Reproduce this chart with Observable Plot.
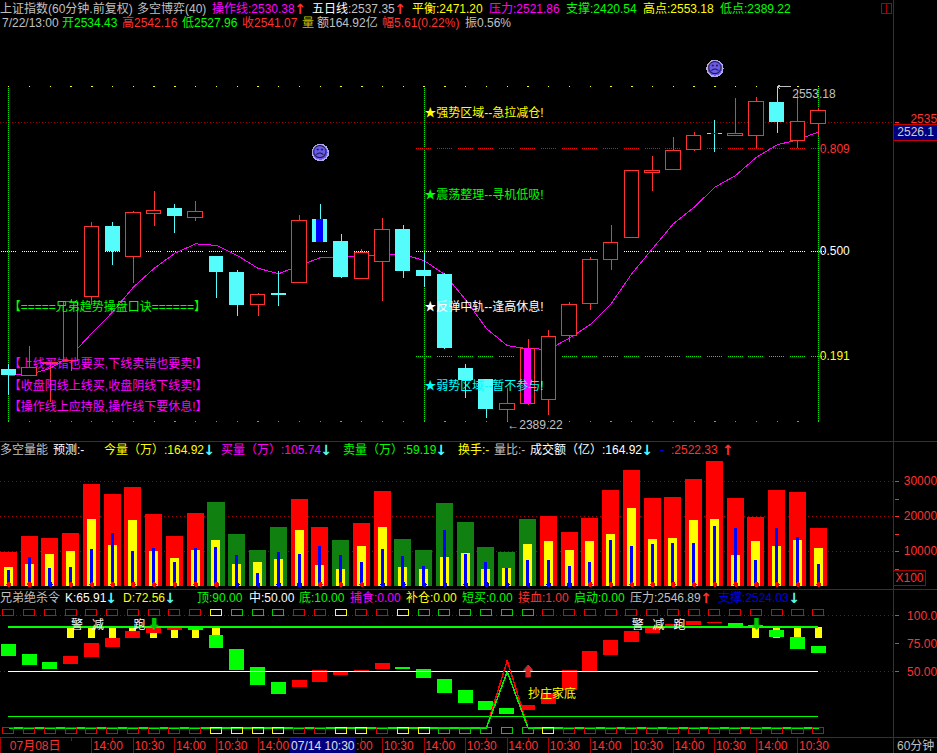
<!DOCTYPE html>
<html><head><meta charset="utf-8">
<script src="https://cdn.jsdelivr.net/npm/d3@7"></script>
<script src="https://cdn.jsdelivr.net/npm/@observablehq/plot@0.6"></script>
<style>
html,body{margin:0;padding:0;background:#000;overflow:hidden}
#wrap{position:relative;width:937px;height:753px;background:#000;overflow:hidden;font:12px "Liberation Sans","Noto Sans CJK SC",sans-serif}
#wrap svg{position:absolute;left:0;background:transparent!important;shape-rendering:crispEdges}
.t{position:absolute;white-space:nowrap;line-height:14px;height:14px;z-index:5}
.a{position:absolute;width:12px;text-align:center;line-height:14px;height:14px;z-index:5;font:bold 14px/14px "DejaVu Sans"}
.l{position:absolute;background:#a80000;z-index:6}
text{font-family:"Liberation Sans","Noto Sans CJK SC",sans-serif}
</style></head><body><div id="wrap">
<div class="t" style="left:0;top:2px;color:#c0c0c0">上证指数(60分钟.前复权)</div>
<div class="t" style="left:137px;top:2px;color:#c0c0c0">多空博弈(40)</div>
<div class="t" style="left:212px;top:2px;color:#f0f">操作线:2530.38</div>
<div class="a" style="left:294px;top:2px;color:#ff3232">↑</div>
<div class="t" style="left:312px;top:2px;color:#c0c0c0"><span style="color:#fff">五日线</span>:2537.35</div>
<div class="a" style="left:394px;top:2px;color:#ff3232">↑</div>
<div class="t" style="left:412px;top:2px;color:#ff0">平衡:2471.20</div>
<div class="t" style="left:489px;top:2px;color:#f0f">压力:2521.86</div>
<div class="t" style="left:566px;top:2px;color:#0f0">支撑:2420.54</div>
<div class="t" style="left:643px;top:2px;color:#ff0">高点:2553.18</div>
<div class="t" style="left:720px;top:2px;color:#0f0">低点:2389.22</div>
<div class="t" style="left:2px;top:16px;color:#c0c0c0">7/22/13:00</div>
<div class="t" style="left:62px;top:16px;color:#0f0">开2534.43</div>
<div class="t" style="left:122px;top:16px;color:#ff3232">高2542.16</div>
<div class="t" style="left:182px;top:16px;color:#0f0">低2527.96</div>
<div class="t" style="left:242px;top:16px;color:#ff3232">收2541.07</div>
<div class="t" style="left:302px;top:16px;color:#c0c000">量</div>
<div class="t" style="left:317px;top:16px;color:#c0c0c0">额164.92亿</div>
<div class="t" style="left:382px;top:16px;color:#ff3232">幅5.61(0.22%)</div>
<div class="t" style="left:465px;top:16px;color:#c0c0c0">振0.56%</div>

<div class="t" style="left:0;top:443px;color:#c0c0c0">多空量能</div>
<div class="t" style="left:53px;top:443px;color:#fff">预测:-</div>
<div class="t" style="left:104px;top:443px;color:#ff0">今量（万）:164.92</div>
<div class="a" style="left:203px;top:443px;color:#54fcfc">↓</div>
<div class="t" style="left:221px;top:443px;color:#f0f">买量（万）:105.74</div>
<div class="a" style="left:320px;top:443px;color:#54fcfc">↓</div>
<div class="t" style="left:343px;top:443px;color:#0f0">卖量（万）:59.19</div>
<div class="a" style="left:435px;top:443px;color:#54fcfc">↓</div>
<div class="t" style="left:458px;top:443px;color:#ff0">换手:-</div>
<div class="t" style="left:494px;top:443px;color:#c0c0c0">量比:-</div>
<div class="t" style="left:530px;top:443px;color:#fff">成交额（亿）:164.92</div>
<div class="a" style="left:641px;top:443px;color:#54fcfc">↓</div>
<div class="t" style="left:660px;top:443px;color:#00f">-</div>
<div class="t" style="left:671px;top:443px;color:#ff3232">:2522.33</div>
<div class="a" style="left:722px;width:8px;top:443px;color:#ff3232">↑</div>

<div class="t" style="left:0;top:591px;color:#c0c0c0">兄弟绝杀令</div>
<div class="t" style="left:65px;top:591px;color:#fff">K:65.91</div>
<div class="a" style="left:105px;top:591px;color:#54fcfc">↓</div>
<div class="t" style="left:123px;top:591px;color:#ff0">D:72.56</div>
<div class="a" style="left:164px;top:591px;color:#54fcfc">↓</div>
<div class="t" style="left:197px;top:591px;color:#0f0">顶:90.00</div>
<div class="t" style="left:249px;top:591px;color:#fff">中:50.00</div>
<div class="t" style="left:299px;top:591px;color:#0f0">底:10.00</div>
<div class="t" style="left:350px;top:591px;color:#f0f">捕食:0.00</div>
<div class="t" style="left:406px;top:591px;color:#ff0">补仓:0.00</div>
<div class="t" style="left:462px;top:591px;color:#0f0">短买:0.00</div>
<div class="t" style="left:518px;top:591px;color:#ff3232">接血:1.00</div>
<div class="t" style="left:574px;top:591px;color:#0f0">启动:0.00</div>
<div class="t" style="left:630px;top:591px;color:#c0c0c0">压力:2546.89</div>
<div class="a" style="left:700px;top:591px;color:#ff3232">↑</div>
<div class="t" style="left:718px;top:591px;color:#0000e6">支撑:2524.03</div>
<div class="a" style="left:788px;top:591px;color:#54fcfc">↓</div>

<div class="l" style="left:893px;top:0;width:1px;height:753px"></div>
<div class="l" style="left:0;top:441px;width:937px;height:1px"></div>
<div class="l" style="left:0;top:589px;width:937px;height:1px"></div>
<div class="l" style="left:0;top:737px;width:937px;height:1px"></div>
<div class="l" style="left:0;top:737px;width:1px;height:16px"></div>
<div style="position:absolute;left:881px;top:3px;width:9px;height:9px;border:1px solid #a80000;z-index:6"></div>
<div style="position:absolute;left:886px;top:3px;width:1px;height:10px;background:#a80000;z-index:6"></div>

<div style="position:absolute;left:894px;top:124px;width:43px;height:15px;background:#000080;border-top:1px solid #c80000;border-bottom:1px solid #c80000;color:#d0d0d0;line-height:15px;z-index:6">&nbsp;2526.1</div>
<div style="position:absolute;left:893px;top:570px;width:31px;height:14px;border:1px solid #a80000;color:#ff3232;line-height:14px;text-align:center;z-index:6">X100</div>
<div class="t" style="left:897px;top:739px;color:#c0c0c0">60分钟</div>
</div>
<script>
// candles, index 0..39
const priceOpen=[2414.1,2411.0,2416.5,2418.1,2448.9,2483.3,2468.3,2489.7,2492.1,2487.5,2468.7,2460.9,2445.2,2450.7,2455.7,2486.9,2476.1,2457.7,2465.9,2481.9,2461.9,2459.9,2414.6,2409.4,2394.7,2397.6,2399.5,2430.1,2445.7,2467.1,2477.8,2509.7,2511.2,2521.2,2529.6,2528.5,2528.2,2545.1,2525.7,2534.43];
const priceHigh=[2416.5,2425.1,2417.6,2447.6,2485.5,2485.5,2490.9,2500.7,2494.2,2495.7,2468.7,2461.9,2450.8,2461.4,2488.8,2494.2,2479.5,2472.0,2487.3,2483.9,2470.1,2460.6,2416.5,2409.4,2404.9,2428.5,2432.8,2446.2,2468.1,2483.9,2510.9,2518.0,2527.5,2530.0,2536.0,2547.1,2547.6,2553.18,2551.2,2542.16];
const priceLow=[2401.8,2411.0,2398.3,2412.9,2444.9,2464.3,2455.4,2483.6,2479.8,2486.0,2448.4,2439.3,2439.3,2444.6,2455.7,2475.7,2458.1,2457.7,2446.8,2458.1,2453.8,2423.7,2400.5,2390.9,2389.22,2397.0,2392.2,2426.8,2442.5,2461.9,2477.8,2500.7,2511.2,2520.5,2520.2,2528.2,2521.9,2529.5,2521.9,2527.96];
const priceClose=[2411.3,2415.0,2417.1,2446.7,2483.3,2471.1,2490.1,2490.8,2488.5,2490.6,2460.9,2444.9,2450.1,2449.9,2486.2,2475.7,2458.6,2470.5,2481.8,2461.4,2459.1,2424.2,2408.6,2395.2,2397.8,2424.0,2429.8,2445.2,2467.1,2475.4,2510.9,2510.9,2520.9,2528.4,2529.1,2529.1,2545.4,2535.0,2535.4,2541.07];
const operLine=[2411.3,2411.8,2414.6,2420.8,2431.5,2441.7,2453.8,2462.9,2470.3,2474.9,2474.1,2469.2,2462.9,2460.3,2464.3,2468.1,2468.3,2468.8,2469.7,2469.7,2466.7,2459.8,2447.6,2433.7,2425.5,2424.0,2423.8,2429.1,2435.7,2445.7,2460.3,2472.6,2484.7,2492.9,2502.8,2508.6,2517.7,2523.9,2526.4,2530.38];
const markedCandles=[[15,"#0000ff"],[25,"#ff00ff"],[34,"#0000ff"]];
const fibLevels=[["0.809",2521.86,"#ff3232"],["0.500",2471.20,"#ffffff"],["0.191",2420.54,"#ffff00"]];
const priceHiLo=[2553.18,2389.22];
const zoneNotes=[["★强势区域--急拉减仓!",2539.6,"#ffff00"],["★震荡整理--寻机低吸!",2498.7,"#00ff00"],["★反弹中轨--逢高休息!",2444.1,"#ffffff"],["★弱势区域--暂不参与!",2406.2,"#00ffff"]];
const tradeNotes=[["【=====兄弟趋势操盘口诀======】",2444.1,"#00ff00"],["【上线买错也要买,下线卖错也要卖!】",2416.7,"#ff00ff"],["【收盘阳线上线买,收盘阴线下线卖!】",2406.2,"#ff00ff"],["【操作线上应持股,操作线下要休息!】",2396.2,"#ff00ff"]];
const sadFaces=[[15,2520],[34,2562.3]];
// volume
const volTotal=[9714,14286,13714,15143,29143,26286,28286,20571,14286,20857,24000,14857,10286,16857,24857,16857,13143,18000,27143,13429,10286,23714,18286,11143,9714,19143,20000,15429,19429,27429,33143,25143,25429,30571,35714,25143,19714,27429,26857,16492];
const volFalling=[10,11,12,13,16,19,20,21,22,23,24,25];
const volYellow=[5429,6286,9143,10000,19143,11714,18857,10000,8000,10286,13143,6286,6857,7714,16000,6000,4857,11429,16857,5429,4857,8286,9429,4857,5143,12000,12857,10286,12857,14857,22286,13429,13714,18857,19143,8857,12857,11429,13143,10857];
const volBlue=[4571,8286,5143,5429,10571,15143,10000,10857,6857,10857,11143,8857,3714,9714,9143,11429,8857,6857,10571,8571,5714,16000,9143,6857,5143,7429,7429,5714,6857,13143,11429,12000,12286,12286,17143,16571,7429,16571,14000,6286];
const volBlueMarks=[2,11,12,13,14,18,19,20,21,22,23,24,25,26,27];
const volTicks=[10000,20000,30000];
const volMinorTicks=[5000,15000,25000];
// indicator
const kdTop=[74.4,65.5,58.3,63.7,75.3,79.7,86.0,88.7,89.6,88.7,82.4,69.9,53.9,40.5,42.2,51.2,49.4,51.2,57.4,53.9,52.1,43.1,33.3,23.5,17.2,19.9,30.3,51.2,68.1,78.0,86.0,89.9,92.2,94.9,94.0,93.1,91.4,86.9,80.6,72.56];
const kdBottom=[63.7,55.6,52.1,56.5,62.8,71.7,79.7,84.2,86.9,86.9,70.8,51.2,37.8,29.8,36.0,40.5,46.7,50.0,52.1,52.1,44.0,30.6,21.7,15.5,11.9,15.5,20.8,33.3,50.3,64.6,76.2,84.2,88.7,91.4,93.1,88.7,88.7,80.6,69.9,65.91];
const kdGreen=[0,1,2,9,10,11,12,13,19,20,21,22,23,24,35,36,37,38,39];
const warnBars=[3,4,5,6,7,8,9,10,36,37,38,39];
const warnWords=[[3,"警"],[4,"减"],[6,"跑"],[30,"警"],[31,"减"],[32,"跑"]];
const downArrows=[7,36];
const upArrows=[25];
const bottomRed=[0,0,0,0,0,0,0,0,0,0,0,0,0,0,0,0,0,0,0,0,0,0,0,0,60,0,0,0,0,0,0,0,0,0,0,0,0,0,0,0];
const bottomGreen=[0,0,0,0,0,0,0,0,0,0,0,0,0,0,0,0,0,0,0,0,0,0,0,0,50,0,0,0,0,0,0,0,0,0,0,0,0,0,0,0];
const topBoxes=["r","r","r","r","r","r","r","r","r","r","y","g","g","g","r","r","y","r","r","y","g","g","g","g","g","g","r","r","r","r","r","r","r","r","r","r","r","r","r","r"];
const lowBoxes=["r","r","r","r","r","r","r","r","r","r","y","y","y","y","r","r","y","y","r","y","y","g","g","g","g","g","y","r","r","r","r","r","r","r","r","r","r","r","r","r"];
const kdTicks=[[100,"100.0"],[75,"75.00"],[50,"50.00"]];
// x axis
const axisTicks=[[4,"14:00"],[6,"10:30"],[8,"14:00"],[10,"10:30"],[12,"14:00"],[18,"10:30"],[20,"14:00"],[22,"10:30"],[24,"14:00"],[26,"10:30"],[28,"14:00"],[30,"10:30"],[32,"14:00"],[34,"10:30"],[36,"14:00"],[38,"10:30"]];
const axisMinor=[3,5,7,9,11,13,17,19,21,23,25,27,29,31,33,35,37,39];

const RED="#ff3232",CYAN="#54fcfc",GRID="#a00000",GREEN="#00f000";
const idx=d3.range(40);
const xScale={type:"linear",domain:[-0.4,44.717],range:[0,937]};
const boxColor={r:"#e60000",y:"#ffff00",g:"#00d000"};
const wrap=document.getElementById("wrap");
function place(p,top){p.style.top=top+"px";wrap.appendChild(p);}
const halfGroups=(from)=>d3.range(from,40);

// ---- price panel: svg spans y=28..440, log scale
const k=0.00019794, yTop=28, yBot=440;
const priceAt=y=>2389.22*Math.exp((421.3-y)*k);
const upIdx=idx.filter(i=>priceClose[i]>=priceOpen[i]);
const dnIdx=idx.filter(i=>priceClose[i]<priceOpen[i]);
const pricePlot=Plot.plot({width:937,height:yBot-yTop,margin:0,
 x:{...xScale,axis:null},
 y:{type:"log",domain:[priceAt(yBot),priceAt(yTop)],range:[yBot-yTop,0],axis:null},
 style:{background:"transparent"},
 marks:[
  Plot.ruleY([2535],{x1:-0.4,x2:42.6,stroke:"#a00000",strokeDasharray:"1,2"}),
  Plot.ruleX([0,20,39],{y1:priceHiLo[1],y2:priceHiLo[0],stroke:GREEN,strokeDasharray:"1,1"}),
  ...fibLevels.map((f,n)=>Plot.ruleY(halfGroups(n===1?0:20),{y:()=>f[1],x1:i=>i-0.36,x2:i=>i+0.36,stroke:f[2]==="#ffff00"?GREEN:(n===0?"#ff0000":"#ffffff"),strokeDasharray:"1,1"})),
  Plot.dot(idx,{x:i=>i,y:()=>priceHiLo[0],r:0.7,fill:"#ffff00"}),
  Plot.dot(idx,{x:i=>i,y:()=>priceHiLo[1],r:0.7,fill:GREEN}),
  Plot.line(idx,{x:i=>i,y:i=>operLine[i],stroke:"#ff00ff",strokeWidth:1}),
  Plot.ruleX(upIdx,{x:i=>i,y1:i=>priceLow[i],y2:i=>priceHigh[i],stroke:RED}),
  Plot.ruleX(dnIdx,{x:i=>i,y1:i=>priceLow[i],y2:i=>priceHigh[i],stroke:CYAN}),
  Plot.rect(upIdx,{x1:i=>i-0.35,x2:i=>i+0.35,y1:i=>priceOpen[i],y2:i=>priceClose[i],fill:"#000",stroke:RED,strokeWidth:1}),
  Plot.rect(dnIdx,{x1:i=>i-0.36,x2:i=>i+0.36,y1:i=>priceOpen[i],y2:i=>priceClose[i],fill:CYAN}),
  Plot.rect(markedCandles,{x1:d=>d[0]-0.17,x2:d=>d[0]+0.17,y1:d=>priceOpen[d[0]],y2:d=>priceClose[d[0]],fill:d=>d[1]}),
  Plot.dot(sadFaces,{x:d=>d[0],y:d=>d[1],r:8,fill:"#6a5ce8",stroke:"#b0a8f0"}),
  Plot.text(sadFaces,{x:d=>d[0],y:d=>d[1],text:()=>"☹",fontSize:15,fill:"#201850",fontFamily:"DejaVu Sans"}),
  Plot.text(zoneNotes,{x:()=>20,y:d=>d[1],text:d=>d[0],fill:d=>d[2],textAnchor:"start",fontSize:12}),
  Plot.text(tradeNotes,{x:()=>0,y:d=>d[1],text:d=>d[0],fill:d=>d[2],textAnchor:"start",fontSize:12}),
  Plot.text(fibLevels,{x:()=>39,y:d=>d[1],text:d=>d[0],fill:d=>d[2],textAnchor:"start",dx:1,fontSize:12}),
  Plot.text([priceHiLo[1]],{x:()=>24,y:d=>d,text:d=>"←"+d.toFixed(2),fill:"#c0c0c0",textAnchor:"start",dy:3,fontSize:12}),
  Plot.text([priceHiLo[0]],{x:()=>37,y:d=>d,text:d=>d.toFixed(2),fill:"#c0c0c0",textAnchor:"start",dx:15,dy:8,fontSize:12}),
  Plot.arrow([priceHiLo[0]],{x1:()=>37.65,y1:d=>d,x2:()=>37,y2:d=>d,stroke:"#c0c0c0",strokeWidth:1,bend:8,headLength:4}),
  Plot.ruleY([2535],{x1:42.7,x2:42.9,stroke:RED}),
  Plot.text([2535],{x:()=>44.7,y:d=>d,text:d=>String(d),fill:RED,textAnchor:"end",dy:-3,fontSize:12})
 ]});
place(pricePlot,yTop);

// ---- volume panel svg y=456..588; 35px per 10000, zero at 586
const volH=132, volZeroPx=130;
const volPlot=Plot.plot({width:937,height:volH,margin:0,
 x:{...xScale,axis:null},
 y:{type:"linear",domain:[(volZeroPx-volH)/35*10000,volZeroPx/35*10000],range:[volH,0],axis:null},
 style:{background:"transparent"},
 marks:[
  Plot.ruleY(volTicks,{x1:-0.4,x2:42.6,stroke:GRID,strokeDasharray:"1,3"}),
  Plot.rect(idx,{x1:i=>i-0.41,x2:i=>i+0.41,y1:0,y2:i=>volTotal[i],fill:i=>volFalling.includes(i)?"#108010":"#ff0000"}),
  Plot.rect(idx,{x1:i=>i-0.217,x2:i=>i+0.217,y1:0,y2:i=>volYellow[i],fill:"#ffff00"}),
  Plot.rect(idx,{x1:i=>i-0.072,x2:i=>i+0.072,y1:0,y2:i=>volBlue[i],fill:"#0000ff"}),
  Plot.dot(idx,{x:i=>i,y:()=>570,r:2.4,fill:i=>volBlueMarks.includes(i)?"#0000ff":"#ff0000"}),
  Plot.ruleY([...volTicks,...volMinorTicks],{x1:42.7,x2:42.9,stroke:RED}),
  Plot.text(volTicks,{x:()=>44.7,y:d=>d,text:d=>String(d),fill:RED,textAnchor:"end",fontSize:12})
 ]});
place(volPlot,456);

// ---- indicator panel svg y=604..737; 1.12px per unit, zero at 727.3
const kdTopPx=604,kdH=133;
const kdV=y=>(727.3-y)/1.12;
const kdPlot=Plot.plot({width:937,height:kdH,margin:0,
 x:{...xScale,axis:null},
 y:{type:"linear",domain:[kdV(kdTopPx+kdH),kdV(kdTopPx)],range:[kdH,0],axis:null},
 style:{background:"transparent"},
 marks:[
  Plot.ruleY([100,50],{x1:-0.4,x2:42.6,stroke:GRID,strokeDasharray:"1,3"}),
  Plot.rect(warnBars,{x1:i=>i-0.17,x2:i=>i+0.17,y1:80,y2:90,fill:"#ffff00"}),
  Plot.rect(idx,{x1:i=>i-0.36,x2:i=>i+0.36,y1:i=>kdBottom[i],y2:i=>kdTop[i],fill:i=>kdGreen.includes(i)?"#00ff00":"#ff0000"}),
  Plot.ruleY([90,10],{x1:0,x2:39,stroke:"#00ff00",strokeWidth:1.5}),
  Plot.ruleY([50],{x1:0,x2:39,stroke:"#ffffff",strokeWidth:1}),
  Plot.line(idx,{x:i=>i,y:i=>bottomRed[i],stroke:"#ff0000"}),
  Plot.line(idx,{x:i=>i,y:i=>bottomGreen[i],stroke:GREEN}),
  Plot.rect(idx,{x1:i=>i-0.265,x2:i=>i+0.265,y1:99.6,y2:105.3,fill:"none",stroke:i=>boxColor[topBoxes[i]]}),
  Plot.rect(idx,{x1:i=>i-0.265,x2:i=>i+0.265,y1:-5.7,y2:0,fill:"none",stroke:i=>boxColor[lowBoxes[i]]}),
  Plot.text(warnWords,{x:d=>d[0],y:()=>91.4,text:d=>d[1],fill:"#fff",textAnchor:"start",fontSize:12}),
  Plot.text(downArrows,{x:i=>i,y:()=>93,text:()=>"⬇",fill:"#00c800",fontSize:13,fontFamily:"DejaVu Sans"}),
  Plot.text(upArrows,{x:i=>i,y:()=>50,text:()=>"⬆",fill:"#e02020",stroke:"#a0a0a0",strokeWidth:0.5,fontSize:13,fontFamily:"DejaVu Sans"}),
  Plot.text(["抄庄家底"],{x:()=>25,y:()=>30.3,text:d=>d,fill:"#ffff00",textAnchor:"start",fontSize:12}),
  Plot.ruleY(kdTicks,{y:d=>d[0],x1:42.7,x2:42.9,stroke:RED}),
  Plot.text(kdTicks,{x:()=>44.7,y:d=>d[0],text:d=>d[1],fill:RED,textAnchor:"end",fontSize:12})
 ]});
place(kdPlot,kdTopPx);

// ---- time axis y=738..753
const axisPlot=Plot.plot({width:937,height:15,margin:0,
 x:{...xScale,axis:null},
 y:{type:"linear",domain:[0,15],range:[15,0],axis:null},
 style:{background:"transparent"},
 marks:[
  Plot.ruleX(axisTicks.map(d=>d[0]),{stroke:"#a80000"}),
  Plot.ruleX(axisMinor,{y1:12,y2:15,stroke:"#a80000"}),
  Plot.text(["07月08日"],{x:()=>0,text:d=>d,fill:RED,textAnchor:"start",dx:1,frameAnchor:"middle",fontSize:12}),
  Plot.text(axisTicks,{x:d=>d[0],text:d=>d[1],fill:RED,textAnchor:"start",dx:1,frameAnchor:"middle",fontSize:12}),
  Plot.rect([0],{x1:13.56,x2:16.69,fill:"#000080"}),
  Plot.text(["07/14 10:30"],{x:()=>15.12,text:d=>d,fill:"#e0e0e0",frameAnchor:"middle",fontSize:12}),
  Plot.text([":00"],{x:()=>16.72,text:d=>d,fill:RED,textAnchor:"start",frameAnchor:"middle",fontSize:12})
 ]});
place(axisPlot,738);
</script></body></html>
